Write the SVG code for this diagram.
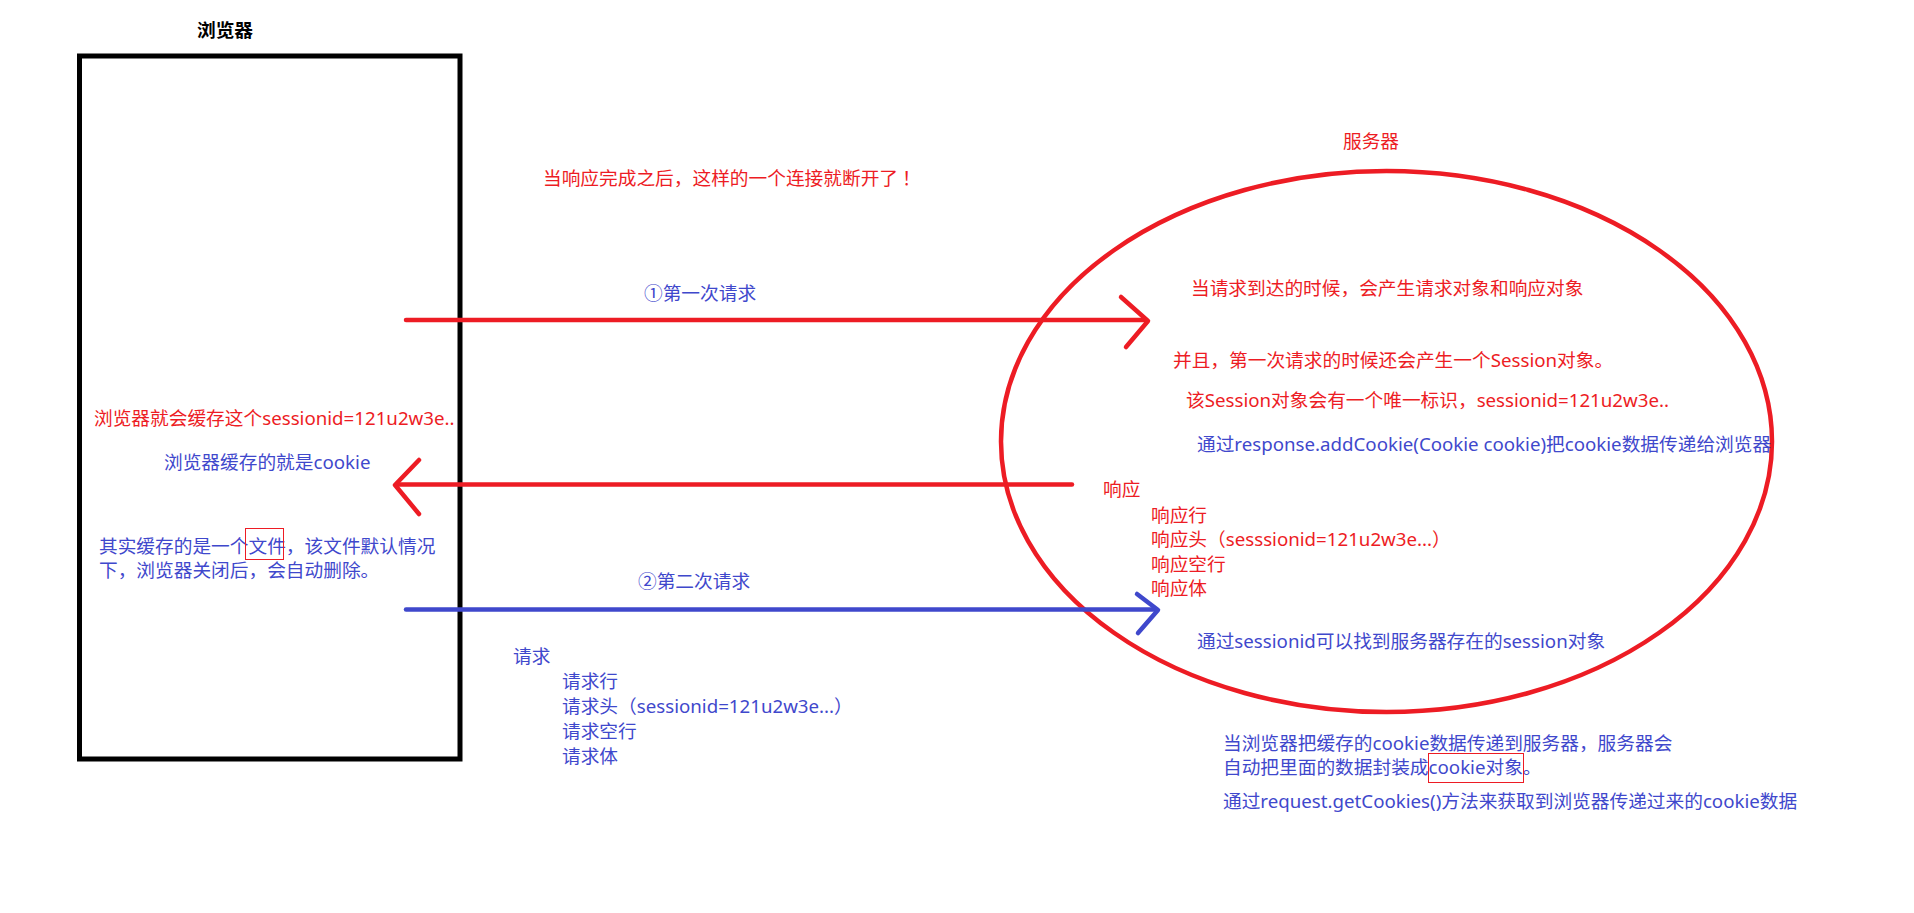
<svg xmlns="http://www.w3.org/2000/svg" width="1914" height="913" viewBox="0 0 1914 913">
<style>
text{font-family:"Noto Sans","Noto Sans CJK SC",sans-serif;font-size:18.7px}
.cjk{font-family:"Noto Sans CJK SC",sans-serif}
.r{fill:#ED1C24}
.b{fill:#3F48CC}
.k{fill:#000;font-weight:bold}
.lr{stroke:#ED1C24;stroke-width:4.5;fill:none;stroke-linecap:round;stroke-linejoin:round}
.lb{stroke:#3F48CC;stroke-width:4.5;fill:none;stroke-linecap:round;stroke-linejoin:round}
.box{fill:none;stroke:#ED1C24;stroke-width:1}
</style>
<rect width="1914" height="913" fill="#fff"/>
<g id="browser">
<rect x="79.5" y="56" width="380.5" height="703" fill="none" stroke="#000" stroke-width="5"/>
<text class="k" x="197" y="37">浏览器</text>
</g>
<g id="server">
<ellipse cx="1386.5" cy="441.5" rx="385.5" ry="270.5" fill="none" stroke="#ED1C24" stroke-width="4.5"/>
<text class="r" x="1343" y="148">服务器</text>
</g>
<g id="connectors">
<line class="lr" x1="406" y1="320" x2="1145" y2="320"/>
<polyline class="lr" points="1121,297 1148,321 1126,347"/>
<line class="lr" x1="1072" y1="484.5" x2="397" y2="484.5"/>
<polyline class="lr" points="419,460 395,485 419,514"/>
<line class="lb" x1="406" y1="609.5" x2="1156" y2="609.5"/>
<polyline class="lb" points="1137,594 1158,610 1138,633"/>
</g>
<g id="labels">
<text class="r cjk" x="543" y="185">当响应完成之后，这样的一个连接就断开了<tspan dx="4">！</tspan></text>
<text class="b" x="644" y="300">①第一次请求</text>
<text class="b" x="638" y="588">②第二次请求</text>
<text class="r" x="1191" y="295">当请求到达的时候，会产生请求对象和响应对象</text>
<text class="r" x="1173" y="367">并且，第一次请求的时候还会产生一个Session对象。</text>
<text class="r" x="1186" y="407">该Session对象会有一个唯一标识，sessionid=121u2w3e..</text>
<text class="b" x="1197" y="451">通过response.addCookie(Cookie cookie)把cookie数据传递给浏览器</text>
<text class="r" x="1103" y="496">响应</text>
<text class="r" x="1151" y="522">响应行</text>
<text class="r" x="1151" y="546">响应头（sesssionid=121u2w3e...）</text>
<text class="r" x="1151" y="571">响应空行</text>
<text class="r" x="1151" y="595">响应体</text>
<text class="b" x="1197" y="648">通过sessionid可以找到服务器存在的session对象</text>
<text class="r" x="94" y="425">浏览器就会缓存这个sessionid=121u2w3e..</text>
<text class="b" x="164" y="469">浏览器缓存的就是cookie</text>
<text class="b" x="99" y="553">其实缓存的是一个文件，该文件默认情况</text>
<text class="b" x="99" y="577">下，浏览器关闭后，会自动删除。</text>
<rect class="box" x="245.5" y="528.5" width="38" height="31"/>
<text class="b" x="513" y="663">请求</text>
<text class="b" x="562" y="688">请求行</text>
<text class="b" x="562" y="713">请求头（sessionid=121u2w3e...）</text>
<text class="b" x="562" y="738">请求空行</text>
<text class="b" x="562" y="763">请求体</text>
<text class="b" x="1223" y="750">当浏览器把缓存的cookie数据传递到服务器，服务器会</text>
<text class="b" x="1223" y="774">自动把里面的数据封装成cookie对象。</text>
<rect class="box" x="1428.5" y="753.5" width="95" height="29"/>
<text class="b" x="1223" y="808">通过request.getCookies()方法来获取到浏览器传递过来的cookie数据</text>
</g>
</svg>
